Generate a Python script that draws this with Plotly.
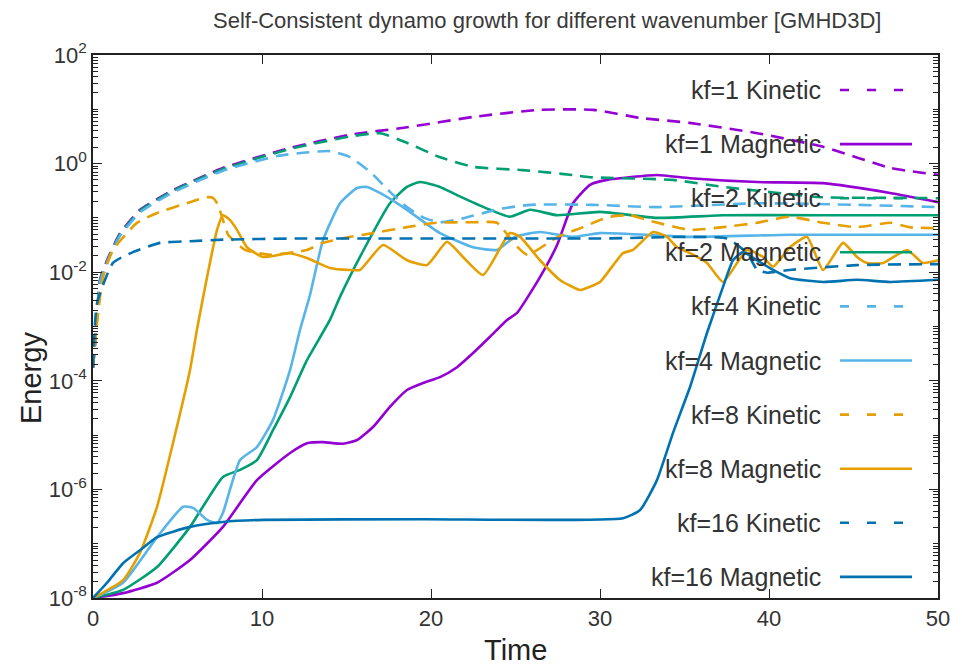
import plotly.graph_objects as go

# ---------------- data ----------------
kf1_kin_t = [0, 0.18, 0.41, 0.83, 1.6, 2.78, 4.73, 7.69, 11.66, 15.2, 18.6, 22.5, 26.4, 29.6, 32.4, 35.3, 39.3, 43.2, 47.2, 50]
kf1_kin_e = [1.74e-4, 8.7e-4, 7.2e-3, 1.66e-2, 5.2e-2, 0.141, 0.324, 0.83, 1.95, 3.39, 4.68, 7.24, 9.77, 9.77, 6.92, 5.62, 3.63, 2.04, 0.83, 0.62]

kf1_mag_t = [0, 1.78, 3.79, 5.74, 7.69, 9.70, 11.66, 12.66, 13.61, 14.79, 15.62, 16.57, 17.57, 18.58, 19.53, 20.53, 21.54, 22.49, 23.49, 24.50, 25.09, 26.45, 27.46, 28.40, 29.41, 30.41, 33.37, 35.33, 39.29, 43.20, 47.16, 50]
kf1_mag_e = [1.0e-8, 1.23e-8, 1.91e-8, 5.0e-8, 2.04e-7, 1.48e-6, 4.68e-6, 7.08e-6, 7.41e-6, 6.92e-6, 8.13e-6, 1.41e-5, 3.31e-5, 6.76e-5, 9.12e-5, 1.17e-4, 1.78e-4, 3.24e-4, 6.46e-4, 1.32e-3, 1.78e-3, 8.13e-3, 3.16e-2, 0.186, 0.407, 0.501, 0.617, 0.537, 0.457, 0.437, 0.288, 0.195]

kf2_kin_t = [0, 0.18, 0.41, 0.83, 1.6, 2.78, 4.73, 7.69, 11.66, 15.2, 17.0, 18.6, 20.5, 22.5, 25.4, 28.4, 29.4, 34.3, 37.3, 43.2, 47.2, 50]
kf2_kin_e = [1.74e-4, 7.9e-4, 6.8e-3, 1.58e-2, 5.0e-2, 0.135, 0.316, 0.794, 1.86, 3.16, 3.63, 2.40, 1.32, 0.871, 0.759, 0.617, 0.562, 0.501, 0.372, 0.240, 0.234, 0.230]

kf2_mag_t = [0, 1.78, 3.79, 5.74, 7.69, 8.70, 9.70, 10.65, 11.66, 12.66, 14.02, 14.62, 16.1, 17.57, 18.58, 19.35, 20.53, 21.54, 23.49, 24.67, 25.86, 27.46, 30.0, 33.37, 37.28, 43.2, 50]
kf2_mag_e = [1.0e-8, 1.41e-8, 3.72e-8, 2.04e-7, 1.70e-6, 2.29e-6, 3.47e-6, 1.23e-5, 5.01e-5, 2.40e-4, 1.32e-3, 3.55e-3, 2.88e-2, 0.186, 0.372, 0.457, 0.372, 0.263, 0.141, 0.105, 0.141, 0.112, 0.129, 0.100, 0.112, 0.112, 0.112]

kf4_kin_t = [0, 0.18, 0.41, 0.83, 1.6, 2.78, 4.73, 7.69, 10.9, 12.4, 14.0, 15.2, 16.39, 17.57, 18.58, 19.59, 20.53, 22.0, 24.0, 25.9, 29.6, 33.4, 39.3, 45.2, 50]
kf4_kin_e = [1.74e-4, 7.9e-4, 6.3e-3, 1.51e-2, 4.7e-2, 0.126, 0.295, 0.741, 1.38, 1.58, 1.70, 1.32, 0.708, 0.302, 0.158, 0.100, 0.083, 0.100, 0.145, 0.174, 0.174, 0.158, 0.186, 0.174, 0.158]

kf4_mag_t = [0, 1.78, 3.79, 5.33, 5.92, 6.75, 7.34, 7.69, 8.70, 9.70, 10.65, 11.66, 12.25, 12.84, 13.61, 14.62, 15.62, 16.21, 16.98, 18.58, 20.53, 22.49, 23.91, 24.97, 26.45, 28.40, 30.0, 35.33, 41.24, 50]
kf4_mag_e = [1.0e-8, 1.91e-8, 1.32e-7, 4.79e-7, 4.57e-7, 2.75e-7, 2.40e-7, 3.72e-7, 3.47e-6, 6.03e-6, 1.91e-5, 1.58e-4, 8.71e-4, 3.80e-3, 3.89e-2, 0.186, 0.355, 0.372, 0.288, 0.141, 0.0525, 0.0288, 0.0257, 0.0447, 0.055, 0.0447, 0.0525, 0.0447, 0.049, 0.049]

kf8_kin_t = [0, 0.18, 0.59, 1.18, 2.6, 3.79, 5.74, 6.75, 7.1, 7.4, 8.0, 9.0, 10.5, 12.66, 13.6, 15.2, 16.57, 18.58, 20.36, 22.5, 23.9, 25.0, 25.7, 27.5, 29.0, 30.0, 30.6, 31.8, 32.8, 35.3, 37.3, 39.3, 41.2, 43.2, 45.2, 47.2, 48.3, 50]
kf8_kin_e = [1.74e-4, 7.9e-4, 8.1e-3, 2.57e-2, 8.1e-2, 0.123, 0.195, 0.240, 0.234, 0.174, 0.049, 0.0257, 0.0209, 0.0257, 0.0347, 0.0447, 0.0525, 0.0676, 0.0813, 0.0832, 0.0813, 0.0316, 0.0209, 0.0447, 0.0676, 0.0912, 0.105, 0.112, 0.0912, 0.0603, 0.0676, 0.0813, 0.105, 0.0813, 0.0676, 0.0813, 0.0676, 0.0646]

kf8_mag_t = [0, 1.78, 2.78, 3.79, 4.73, 5.74, 6.15, 6.75, 7.34, 7.69, 8.11, 8.52, 9.11, 10.06, 11.66, 12.66, 14.02, 15.21, 15.80, 17.16, 18.58, 19.76, 20.95, 21.89, 23.08, 24.67, 25.27, 26.45, 27.63, 28.82, 29.41, 30.0, 31.36, 31.95, 33.14, 33.96, 34.56, 35.33, 36.33, 37.28, 38.70, 39.64, 40.24, 41.24, 42.25, 43.20, 44.38, 45.21, 45.80, 46.75, 48.17, 49.11, 50]
kf8_mag_e = [1.0e-8, 2.14e-8, 6.76e-8, 4.79e-7, 7.08e-6, 1.58e-4, 8.71e-4, 8.13e-3, 6.03e-2, 0.112, 0.0912, 0.0603, 0.0288, 0.0191, 0.0224, 0.0182, 0.0120, 0.0110, 0.0110, 0.0316, 0.0166, 0.0135, 0.0363, 0.0191, 0.0089, 0.0525, 0.0447, 0.0166, 0.0072, 0.0047, 0.0054, 0.0066, 0.0224, 0.0257, 0.055, 0.0447, 0.0288, 0.0224, 0.0148, 0.0066, 0.0257, 0.0191, 0.0126, 0.0288, 0.0447, 0.0110, 0.0347, 0.0191, 0.0148, 0.0148, 0.0257, 0.0148, 0.0166]

kf16_kin_t = [0, 0.24, 1.18, 2.37, 3.96, 5.74, 7.69, 12.0, 20.0, 30.0, 37.5, 38.7, 39.3, 39.9, 41.2, 45.2, 50]
kf16_kin_e = [1.74e-4, 2.69e-3, 1.48e-2, 2.34e-2, 3.47e-2, 3.72e-2, 3.98e-2, 4.17e-2, 4.17e-2, 4.17e-2, 4.17e-2, 2.24e-2, 1.10e-2, 9.8e-3, 1.10e-2, 1.35e-2, 1.41e-2]

kf16_mag_t = [0, 0.83, 1.78, 2.78, 3.79, 5.74, 7.69, 10.06, 19.53, 31.36, 32.37, 33.37, 34.32, 35.33, 36.33, 37.28, 37.87, 38.46, 39.29, 40.24, 41.24, 43.20, 45.21, 47.16, 50]
kf16_mag_e = [1.0e-8, 1.91e-8, 4.37e-8, 7.59e-8, 1.32e-7, 2.04e-7, 2.51e-7, 2.75e-7, 2.82e-7, 2.95e-7, 4.17e-7, 1.48e-6, 1.10e-5, 7.76e-5, 7.59e-4, 5.37e-3, 1.66e-2, 2.34e-2, 1.66e-2, 1.10e-2, 7.76e-3, 6.61e-3, 7.24e-3, 6.61e-3, 7.24e-3]

series_names = ["kf=1 Kinetic", "kf=1 Magnetic", "kf=2 Kinetic", "kf=2 Magnetic",
                "kf=4 Kinetic", "kf=4 Magnetic", "kf=8 Kinetic", "kf=8 Magnetic",
                "kf=16 Kinetic", "kf=16 Magnetic"]
series_t = [kf1_kin_t, kf1_mag_t, kf2_kin_t, kf2_mag_t, kf4_kin_t, kf4_mag_t,
            kf8_kin_t, kf8_mag_t, kf16_kin_t, kf16_mag_t]
series_e = [kf1_kin_e, kf1_mag_e, kf2_kin_e, kf2_mag_e, kf4_kin_e, kf4_mag_e,
            kf8_kin_e, kf8_mag_e, kf16_kin_e, kf16_mag_e]

x_ticks = [0, 10, 20, 30, 40, 50]
y_ticks = [1e-8, 1e-6, 1e-4, 1e-2, 1e0, 1e2]
y_tick_labels = ["10<sup>-8</sup>", "10<sup>-6</sup>", "10<sup>-4</sup>", "10<sup>-2</sup>", "10<sup>0</sup>", "10<sup>2</sup>"]

# ---------------- styling ----------------
colors = {"kf=1": "#9400D3", "kf=2": "#009E73", "kf=4": "#56B4E9", "kf=8": "#E69F00", "kf=16": "#0072B2"}
FONT = "Liberation Sans, Arial, sans-serif"
OFF = 8                      # page body margin of the browser
W, H = 962 - OFF, 670 - OFF
# plot area in screen pixels
SL, SR, ST, SB = 93, 938, 55, 598
L, R, T, B = SL - OFF, SR - OFF, ST - OFF, SB - OFF

fig = go.Figure()
for name, t, e in zip(series_names, series_t, series_e):
    key = name.split()[0]
    dashed = "Kinetic" in name
    fig.add_trace(go.Scatter(
        x=t, y=e, mode="lines", name=name, showlegend=False,
        line=dict(color=colors[key], width=2.6,
                  dash="13px,8px" if dashed else "solid",
                  shape="spline", smoothing=0.5),
    ))

# minor y ticks (log digits)
minor_vals = []
for p in range(-8, 2):
    for m in range(1, 10):
        v = m * 10.0 ** p
        if not (m == 1 and p % 2 == 0):
            minor_vals.append(v)

fig.update_layout(
    width=W, height=H,
    margin=dict(l=L, r=W - R, t=T, b=H - B),
    paper_bgcolor="white", plot_bgcolor="white",
    font=dict(family=FONT, color="#222"),
    showlegend=False,
    xaxis=dict(range=[0, 50], tickvals=x_ticks, ticks="inside", ticklen=9, tickwidth=1,
               tickcolor="#222", showline=True, linecolor="#222", linewidth=1.5,
               mirror="allticks", showgrid=False, zeroline=False,
               tickfont=dict(size=22, family=FONT, color="#333")),
    yaxis=dict(type="log", range=[-8, 2], tickmode="array", tickvals=y_ticks,
               ticktext=y_tick_labels, ticks="inside", ticklen=9, tickwidth=1,
               tickcolor="#222", showline=True, linecolor="#222", linewidth=1.5,
               mirror="allticks", showgrid=False, zeroline=False,
               tickfont=dict(size=22, family=FONT, color="#333"),
               minor=dict(tickmode="array", tickvals=minor_vals, ticks="inside",
                          ticklen=5, tickcolor="#222", showgrid=False)),
)

def px_to_paper(px, py):
    # screen pixel -> paper coordinates
    return (px - SL) / (SR - SL), (SB - py) / (SB - ST)

annotations = []
tx, ty = px_to_paper(547, 20)
annotations.append(dict(text="Self-Consistent dynamo growth for different wavenumber [GMHD3D]",
                        x=tx, y=ty, xref="paper", yref="paper", showarrow=False,
                        xanchor="center", yanchor="middle",
                        font=dict(size=22, family=FONT, color="#3a3a3a")))
ax_x, ax_y = px_to_paper(515, 650)
annotations.append(dict(text="Time", x=ax_x, y=ax_y, xref="paper", yref="paper",
                        showarrow=False, xanchor="center", yanchor="middle",
                        font=dict(size=29, family=FONT, color="#222")))
ay_x, ay_y = px_to_paper(31, 378)
annotations.append(dict(text="Energy", x=ay_x, y=ay_y, xref="paper", yref="paper",
                        showarrow=False, xanchor="center", yanchor="middle", textangle=-90,
                        font=dict(size=29, family=FONT, color="#222")))

shapes = []
for i, name in enumerate(series_names):
    key = name.split()[0]
    dashed = "Kinetic" in name
    row_y = 90 + 54.1 * i
    lx, ly = px_to_paper(823, row_y)
    annotations.append(dict(text=name, x=lx, y=ly, xref="paper", yref="paper",
                            showarrow=False, xanchor="right", yanchor="middle",
                            font=dict(size=25, family=FONT, color="#333")))
    x0, _ = px_to_paper(840, row_y)
    x1, _ = px_to_paper(912, row_y)
    shapes.append(dict(type="line", xref="paper", yref="paper", x0=x0, x1=x1, y0=ly, y1=ly,
                       line=dict(color=colors[key], width=2.6,
                                 dash="9px,18px" if dashed else "solid")))

fig.update_layout(annotations=annotations, shapes=shapes)
fig.write_html("out.html")
